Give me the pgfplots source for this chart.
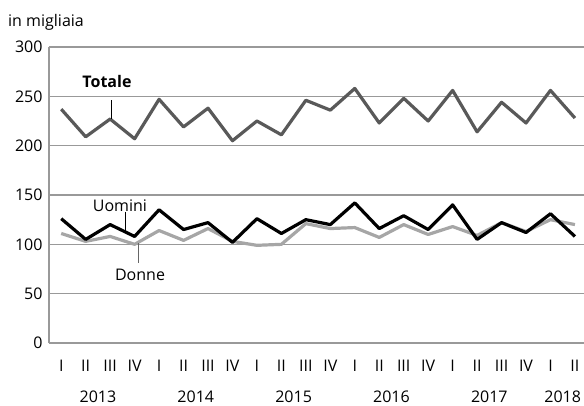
\documentclass[border=0pt]{standalone}
\usepackage{fontspec}
\setmainfont{Open Sans}
\usepackage{pgfplots}
\usepackage{pgfplotstable}
\pgfplotsset{compat=1.18}
\definecolor{totcol}{HTML}{595959}
\definecolor{uomcol}{HTML}{000000}
\definecolor{doncol}{HTML}{A6A6A6}
\definecolor{gridcol}{HTML}{999999}

% occupati, in migliaia, trimestri 2013 I - 2018 II
\pgfplotstableread{
q  tot  uom  don
0  237  126  111
1  209  105  103
2  227  120  108
3  207  108  100
4  247  135  114
5  219  115  104
6  238  122  116
7  205  102  103
8  225  126  99
9  211  111  100
10 246  125  121
11 236  120  116
12 258  142  117
13 223  116  107
14 248  129  120
15 225  115  110
16 256  140  118
17 214  105  109
18 244  122  122
19 223  112  113
20 256  131  125
21 228  108  120
}\dati

\begin{document}
\begin{tikzpicture}
\begin{axis}[
    scale only axis,
    width=535pt, height=296pt,
    xmin=-0.5, xmax=21.37,
    ymin=0, ymax=300,
    ytick={0,50,...,300},
    axis x line*=bottom,
    axis y line*=left,
    axis line style={gridcol, line width=1.2pt},
    ymajorgrids,
    grid style={gridcol, line width=1.2pt},
    xtick={0,...,21},
    xticklabels={I,II,III,IV,I,II,III,IV,I,II,III,IV,I,II,III,IV,I,II,III,IV,I,II},
    major tick length=0pt,
    tick label style={font=\fontsize{16}{19}\selectfont},
    /pgf/number format/assume math mode=true,
    yticklabel style={xshift=-3pt},
    xticklabel style={yshift=-14pt},
    extra x ticks={1.5,5.5,9.5,13.5,17.5,20.5},
    extra x tick labels={2013,2014,2015,2016,2017,2018},
    extra x tick style={grid=none, major tick length=0pt,
        xticklabel style={yshift=-30pt}},
    clip=false,
]
\addplot[doncol, line width=3.2pt, line join=round] table[x=q, y=don] {\dati};
\addplot[uomcol, line width=3.2pt, line join=round] table[x=q, y=uom] {\dati};
\addplot[totcol, line width=3.2pt, line join=round] table[x=q, y=tot] {\dati};

\node[font=\fontsize{16}{19}\selectfont\bfseries] at (axis cs:1.87,265) {Totale};
\draw[black, line width=0.8pt] (axis cs:2.04,246) -- (axis cs:2.04,227);
\node[font=\fontsize{16}{19}\selectfont] at (axis cs:2.4,139) {Uomini};
\draw[black, line width=0.8pt] (axis cs:2.61,133) -- (axis cs:2.61,114);
\node[font=\fontsize{16}{19}\selectfont] at (axis cs:3.22,69) {Donne};
\draw[black!60, line width=0.8pt] (axis cs:3.16,101) -- (axis cs:3.16,81);

\node[anchor=base west, inner sep=0pt, font=\fontsize{16}{19}\selectfont]
    at ([xshift=-41pt, yshift=20.5pt]rel axis cs:0,1) {in migliaia};
\coordinate (sw) at (rel axis cs:0,0);
\coordinate (ne) at (rel axis cs:1,1);
\end{axis}
\pgfresetboundingbox
\path[use as bounding box] ([xshift=-49pt, yshift=-62pt]sw) rectangle ([yshift=47pt]ne);
\end{tikzpicture}
\end{document}
